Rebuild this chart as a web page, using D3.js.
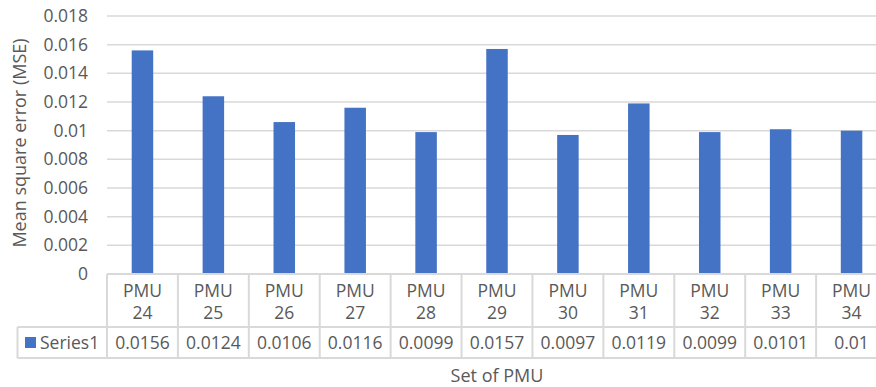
<!DOCTYPE html>
<html><head><meta charset="utf-8">
<script src="https://cdn.jsdelivr.net/npm/d3@7"></script>
<style>
body{margin:0;background:#fff;}
text{font-family:"Open Sans",sans-serif;fill:#595959;}
</style></head>
<body><svg id="c" width="876" height="387"></svg>
<script>
const categories = ["PMU 24","PMU 25","PMU 26","PMU 27","PMU 28","PMU 29","PMU 30","PMU 31","PMU 32","PMU 33","PMU 34"];
const series1 = [0.0156,0.0124,0.0106,0.0116,0.0099,0.0157,0.0097,0.0119,0.0099,0.0101,0.01];
const tableLabels = ["0.0156","0.0124","0.0106","0.0116","0.0099","0.0157","0.0097","0.0119","0.0099","0.0101","0.01"];
const yTicks = [0,0.002,0.004,0.006,0.008,0.01,0.012,0.014,0.016,0.018];
const seriesName = "Series1";

const svg = d3.select("#c");
const fs = "17.5px";
const x = d3.scaleBand().domain(categories).range([107, 887]).paddingInner(0).paddingOuter(0);
const y = d3.scaleLinear().domain([0, 0.018]).range([274, 16]);
const grid = "#d9d9d9";

// gridlines
svg.append("g").selectAll("line").data(yTicks.slice(1)).join("line")
  .attr("x1", 107).attr("x2", 887)
  .attr("y1", d => y(d)).attr("y2", d => y(d))
  .attr("stroke", grid).attr("stroke-width", 1.5);

// y tick labels
svg.append("g").selectAll("text").data(yTicks).join("text")
  .attr("x", 88).attr("y", d => y(d)).attr("dy", "0.35em")
  .attr("text-anchor", "end").style("font-size", fs)
  .text(d => d === 0 ? "0" : d3.format("")(+d.toFixed(3)));

// bars
const bw = 21.5;
svg.append("g").selectAll("rect").data(series1).join("rect")
  .attr("x", (d, i) => x(categories[i]) + x.bandwidth() / 2 - bw / 2)
  .attr("width", bw)
  .attr("y", d => y(d)).attr("height", d => y(0) - y(d))
  .attr("fill", "#4472c4");

// table
const tTop = 274, tMid = 327, tBot = 358, tLeft = 17.5;
const tg = svg.append("g").attr("stroke", grid).attr("stroke-width", 2).attr("fill", "none");
tg.append("line").attr("x1", 107).attr("x2", 887).attr("y1", tTop).attr("y2", tTop);
tg.append("line").attr("x1", tLeft).attr("x2", 887).attr("y1", tMid).attr("y2", tMid);
tg.append("line").attr("x1", tLeft).attr("x2", 887).attr("y1", tBot).attr("y2", tBot);
tg.append("line").attr("x1", tLeft).attr("x2", tLeft).attr("y1", tMid).attr("y2", tBot);
tg.selectAll(".v").data(categories).join("line").attr("class", "v")
  .attr("x1", d => x(d)).attr("x2", d => x(d)).attr("y1", tTop).attr("y2", tBot);

// category labels
const cl = svg.append("g").selectAll("text").data(categories).join("text")
  .attr("text-anchor", "middle").style("font-size", fs);
cl.append("tspan").attr("x", d => x(d) + x.bandwidth() / 2).attr("y", 297).text(d => d.split(" ")[0]);
cl.append("tspan").attr("x", d => x(d) + x.bandwidth() / 2).attr("y", 319).text(d => d.split(" ")[1]);

// values row
svg.append("g").selectAll("text").data(tableLabels).join("text")
  .attr("x", (d, i) => x(categories[i]) + x.bandwidth() / 2).attr("y", 348.5)
  .attr("text-anchor", "middle").style("font-size", fs).text(d => d);

// legend cell
svg.append("rect").attr("x", 25).attr("y", 337).attr("width", 11).attr("height", 11).attr("fill", "#4472c4");
svg.append("text").attr("x", 40).attr("y", 348.5).style("font-size", fs).text(seriesName);

// axis titles
svg.append("text").attr("x", 497).attr("y", 382).attr("text-anchor", "middle").style("font-size", "18px").text("Set of PMU");
svg.append("text").attr("transform", "translate(26,143) rotate(-90)").attr("text-anchor", "middle")
  .style("font-size", "18px").text("Mean square error (MSE)");
</script></body></html>
